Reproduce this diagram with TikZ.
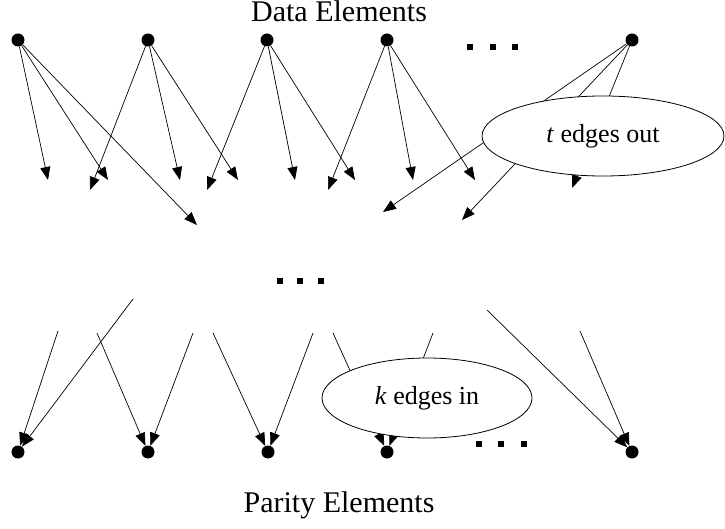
\documentclass[tikz,border=0pt]{standalone}
\usepackage{fontspec}
\setmainfont{Liberation Serif}
\usetikzlibrary{arrows.meta,shapes.geometric}
\begin{document}
\begin{tikzpicture}[x=1pt,y=-1pt,
  dot/.style={circle,fill=black,inner sep=0pt,minimum size=13pt},
  edge/.style={line width=0.7pt,-{Triangle[length=13pt,width=10pt]}},
  sq/.style={fill=black,inner sep=0pt,minimum size=6.5pt},
  bubble/.style={ellipse,draw,fill=white,line width=0.8pt,inner sep=0pt,font=\fontsize{26}{30}\selectfont},
  title/.style={font=\fontsize{30}{34}\selectfont,anchor=base}]
\useasboundingbox (0,0) rectangle (725,529);

% headings
\node[title] (dtitle) at (339,22) {Data Elements};
\node[title] (ptitle) at (339,512) {Parity Elements};

% data elements
\node[dot] (d1) at (18,40) {};
\node[dot] (d2) at (148,40) {};
\node[dot] (d3) at (267,40) {};
\node[dot] (d4) at (387,40) {};
\node[dot] (d5) at (632,40) {};

% parity elements
\node[dot] (p1) at (18,452) {};
\node[dot] (p2) at (148,452) {};
\node[dot] (p3) at (268,452) {};
\node[dot] (p4) at (387,452) {};
\node[dot] (p5) at (632,452) {};

% ellipsis marks
\foreach \i/\x in {1/470,2/493,3/515} \node[sq] (ea\i) at (\x,47) {};
\foreach \i/\x in {1/280,2/300,3/321} \node[sq] (eb\i) at (\x,281) {};
\foreach \i/\x in {1/479,2/501,3/524} \node[sq] (ec\i) at (\x,444) {};

% loose ends of the outgoing edges
\coordinate (a11) at (48,180);  \coordinate (a12) at (108,180); \coordinate (a13) at (197,225);
\coordinate (a21) at (90,190);  \coordinate (a22) at (180,180); \coordinate (a23) at (238,180);
\coordinate (a31) at (207,190); \coordinate (a32) at (295,180); \coordinate (a33) at (355,180);
\coordinate (a41) at (328,190); \coordinate (a42) at (413,180); \coordinate (a43) at (475,180);
\coordinate (a51) at (383,212); \coordinate (a52) at (462,220); \coordinate (a53) at (572,188);

\foreach \d in {1,...,5}
  \foreach \j in {1,2,3}
    \draw[edge] (d\d) -- (a\d\j);

% loose ends of the incoming edges
\coordinate (b11) at (58,331);  \coordinate (b12) at (133,299);
\coordinate (b21) at (97,333);  \coordinate (b22) at (193,333);
\coordinate (b31) at (213,333); \coordinate (b32) at (313,333);
\coordinate (b41) at (333,333); \coordinate (b42) at (433,333);
\coordinate (b51) at (487,310); \coordinate (b52) at (580,331);

\foreach \p in {1,...,5}
  \foreach \j in {1,2}
    \draw[edge] (b\p\j) -- (p\p);

% labels
\node[bubble,minimum width=242pt,minimum height=80pt] (tout) at (603,136) {\textit{t} edges out};
\node[bubble,minimum width=210pt,minimum height=80pt] (kin) at (427,398) {\textit{k} edges in};
\end{tikzpicture}
\end{document}
